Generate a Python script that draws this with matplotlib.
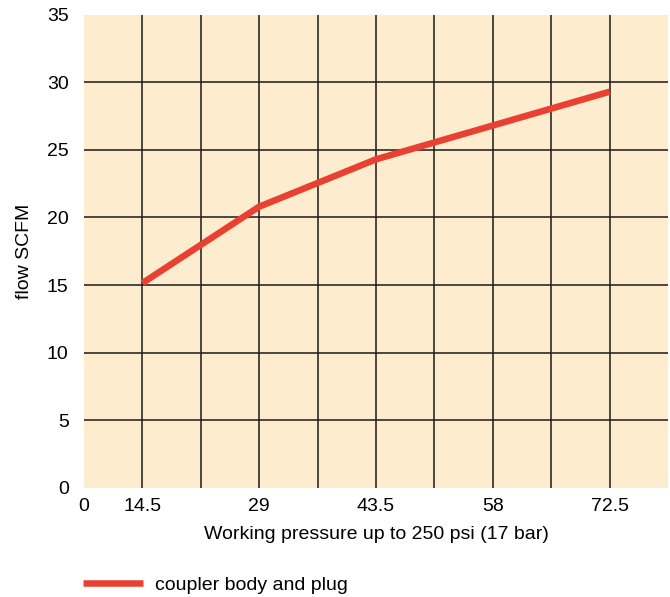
import matplotlib
matplotlib.use("Agg")
import matplotlib.pyplot as plt
import numpy as np

plt.rcParams['font.family'] = ['Liberation Sans', 'DejaVu Sans']

pressure = [14.5, 29, 43.5, 58, 72.5]
flow = [15.15, 20.8, 24.3, 26.8, 29.3]
series_name = "coupler body and plug"
xtick_pos = [7.25, 14.5, 29, 43.5, 58, 72.5]
xtick_labels = ["0", "14.5", "29", "43.5", "58", "72.5"]
yticks = [0, 5, 10, 15, 20, 25, 30, 35]
x_grid = np.arange(14.5, 79.0, 7.25)
y_grid = np.arange(5, 31, 5)

FS = 14

fig = plt.figure(figsize=(6.7, 5.97), dpi=100)
ax = fig.add_axes([84/670, 1-488/597, (668-84)/670, (488-14.6)/597])
ax.set_facecolor('#FEECCE')
for s in ax.spines.values():
    s.set_visible(False)

ax.set_xlim(7.25, 79.75)
ax.set_ylim(0, 35)

ax.set_xticks(xtick_pos)
ax.set_xticklabels(xtick_labels, fontsize=FS)
ax.set_yticks(yticks)
ax.set_yticklabels([str(v) for v in yticks], fontsize=FS)
ax.tick_params(axis='both', length=0)
ax.tick_params(axis='y', pad=11)
ax.tick_params(axis='x', pad=7)
ax.grid(False)

ax.vlines(x_grid, 0, 35, colors='#1a1a1a', linewidth=1.1, zorder=1)
ax.hlines(y_grid, 7.25, 79.75, colors='#1a1a1a', linewidth=1.1, zorder=1)

line, = ax.plot(pressure, flow, color='#E84131', linewidth=4.7,
                solid_capstyle='butt', label=series_name, zorder=3)

ax.set_xlabel("Working pressure up to 250 psi (17 bar)", fontsize=FS, labelpad=8)
ax.set_ylabel("flow SCFM", fontsize=FS, labelpad=10)

fig.legend(handles=[line], loc='center left', bbox_to_anchor=(83/670, 1-585/597),
           frameon=False, fontsize=FS, handlelength=3.1, handletextpad=0.6,
           borderpad=0, borderaxespad=0)

fig.savefig("out.png", dpi=100)
